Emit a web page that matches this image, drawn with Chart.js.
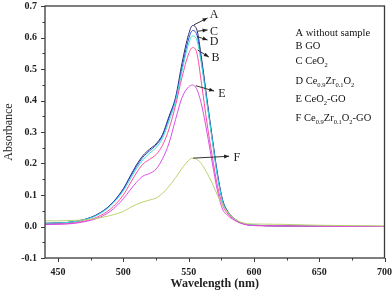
<!DOCTYPE html>
<html>
<head>
<meta charset="utf-8">
<script src="https://cdn.jsdelivr.net/npm/chart.js@4/dist/chart.umd.min.js"></script>
<style>
html, body { margin: 0; padding: 0; background: #fff; }
</style>
</head>
<body>
<canvas id="absChart" width="392" height="298"></canvas>
<script>
// wavelength (nm) for every sample point
const wavelengths = [440, 450, 460, 470, 480, 490, 500, 505, 510, 515, 520, 525, 530, 535, 540, 545, 550, 553, 556, 560, 564, 568, 572, 576, 580, 585, 590, 595, 600, 620, 650, 700];

// absorbance for each curve
const seriesA = [0.010, 0.011, 0.014, 0.022, 0.038, 0.068, 0.120, 0.158, 0.195, 0.225, 0.245, 0.262, 0.292, 0.350, 0.410, 0.520, 0.610, 0.638, 0.628, 0.530, 0.405, 0.285, 0.170, 0.085, 0.048, 0.025, 0.012, 0.006, 0.004, 0.002, 0.001, 0.000];
const seriesB = [0.007, 0.008, 0.010, 0.017, 0.030, 0.055, 0.100, 0.135, 0.170, 0.198, 0.213, 0.228, 0.258, 0.310, 0.385, 0.475, 0.548, 0.568, 0.555, 0.450, 0.330, 0.225, 0.130, 0.068, 0.040, 0.022, 0.011, 0.005, 0.003, 0.002, 0.001, 0.000];
const seriesC = [0.010, 0.011, 0.014, 0.022, 0.038, 0.068, 0.118, 0.155, 0.190, 0.220, 0.240, 0.258, 0.288, 0.345, 0.405, 0.505, 0.595, 0.622, 0.612, 0.520, 0.398, 0.280, 0.165, 0.082, 0.046, 0.024, 0.012, 0.006, 0.004, 0.002, 0.001, 0.000];
const seriesD = [0.010, 0.011, 0.014, 0.021, 0.036, 0.065, 0.113, 0.148, 0.183, 0.212, 0.232, 0.250, 0.280, 0.335, 0.398, 0.495, 0.580, 0.605, 0.595, 0.510, 0.392, 0.275, 0.160, 0.080, 0.045, 0.024, 0.012, 0.006, 0.004, 0.002, 0.001, 0.000];
const seriesE = [0.006, 0.007, 0.009, 0.015, 0.026, 0.048, 0.088, 0.115, 0.140, 0.160, 0.168, 0.182, 0.215, 0.265, 0.340, 0.410, 0.443, 0.449, 0.438, 0.385, 0.300, 0.205, 0.115, 0.055, 0.035, 0.020, 0.010, 0.005, 0.003, 0.002, 0.001, 0.000];
const seriesF = [0.018, 0.018, 0.019, 0.021, 0.026, 0.035, 0.048, 0.060, 0.070, 0.078, 0.084, 0.090, 0.105, 0.128, 0.155, 0.185, 0.210, 0.217, 0.214, 0.198, 0.170, 0.138, 0.100, 0.068, 0.045, 0.025, 0.014, 0.009, 0.008, 0.007, 0.004, 0.002];

const xMajor = [450, 500, 550, 600, 650, 700];
const yMajor = [-0.1, 0.0, 0.1, 0.2, 0.3, 0.4, 0.5, 0.6, 0.7];

// legend text, _{..} is a subscript
const legendLines = [
    'A without sample',
    'B GO',
    'C CeO_{2}',
    'D Ce_{0.9}Zr_{0.1}O_{2}',
    'E CeO_{2}-GO',
    'F Ce_{0.9}Zr_{0.1}O_{2}-GO'
];

// arrow labels: letter, curve point [nm, abs], arrow tip [nm, abs], label [nm, abs]
const curveLabels = [
    ['A', [554, 0.640], [564.5, 0.662], [569.5, 0.671]],
    ['C', [557, 0.620], [564.5, 0.624], [569.5, 0.618]],
    ['D', [556.5, 0.603], [564.5, 0.592], [569.5, 0.586]],
    ['B', [557, 0.560], [565.5, 0.538], [570.5, 0.535]],
    ['E', [555.5, 0.447], [569.5, 0.430], [575.5, 0.420]],
    ['F', [553.5, 0.217], [581, 0.223], [587, 0.217]]
];

const serif = '"Liberation Serif", "Times New Roman", serif';

function pts(vals) {
    return wavelengths.map((w, i) => ({ x: w, y: vals[i] }));
}

function midTicks(major) {
    const out = [];
    major.forEach((v, i) => {
        out.push({ value: v });
        if (i < major.length - 1) out.push({ value: (v + major[i + 1]) / 2 });
    });
    return out;
}

function drawRich(ctx, str, x, y) {
    const parts = str.split(/(_\{[^}]*\})/).filter(s => s.length);
    parts.forEach(p => {
        if (p.startsWith('_{')) {
            const t = p.slice(2, -1);
            ctx.font = '6.5px ' + serif;
            ctx.fillText(t, x, y + 3);
            x += ctx.measureText(t).width;
        } else {
            ctx.font = '10.5px ' + serif;
            ctx.fillText(p, x, y);
            x += ctx.measureText(p).width;
        }
    });
}

const decorPlugin = {
    id: 'decor',
    afterDraw(chart) {
        const ctx = chart.ctx;
        const area = chart.chartArea;
        const xs = chart.scales.x;
        const ys = chart.scales.y;
        ctx.save();

        // frame
        ctx.strokeStyle = '#3a3a3a';
        ctx.lineWidth = 1.3;
        ctx.strokeRect(area.left, area.top, area.right - area.left, area.bottom - area.top);

        // tick marks, outward
        ctx.lineWidth = 1;
        ctx.beginPath();
        xs.ticks.forEach(t => {
            const px = Math.round(xs.getPixelForValue(t.value)) + 0.5;
            const len = xMajor.includes(t.value) ? 4 : 2.5;
            ctx.moveTo(px, area.bottom);
            ctx.lineTo(px, area.bottom + len);
        });
        ys.ticks.forEach(t => {
            const py = Math.round(ys.getPixelForValue(t.value)) + 0.5;
            const major = yMajor.some(v => Math.abs(v - t.value) < 1e-6);
            ctx.moveTo(area.left, py);
            ctx.lineTo(area.left - (major ? 4 : 2.5), py);
        });
        ctx.stroke();

        // arrows to curve letters
        ctx.strokeStyle = '#333';
        ctx.fillStyle = '#222';
        curveLabels.forEach(([letter, from, tip, lab]) => {
            const x0 = xs.getPixelForValue(from[0]), y0 = ys.getPixelForValue(from[1]);
            const x1 = xs.getPixelForValue(tip[0]), y1 = ys.getPixelForValue(tip[1]);
            const ang = Math.atan2(y1 - y0, x1 - x0);
            ctx.beginPath();
            ctx.moveTo(x0, y0);
            ctx.lineTo(x1, y1);
            ctx.stroke();
            ctx.beginPath();
            ctx.moveTo(x1, y1);
            ctx.lineTo(x1 - 5 * Math.cos(ang) + 2 * Math.sin(ang), y1 - 5 * Math.sin(ang) - 2 * Math.cos(ang));
            ctx.lineTo(x1 - 5 * Math.cos(ang) - 2 * Math.sin(ang), y1 - 5 * Math.sin(ang) + 2 * Math.cos(ang));
            ctx.closePath();
            ctx.fill();
            ctx.font = '12px ' + serif;
            ctx.textAlign = 'center';
            ctx.textBaseline = 'middle';
            ctx.fillText(letter, xs.getPixelForValue(lab[0]), ys.getPixelForValue(lab[1]));
        });

        // legend text block
        ctx.textAlign = 'left';
        ctx.textBaseline = 'alphabetic';
        ctx.fillStyle = '#111';
        const offs = [30, 43, 58, 78, 96, 115];
        legendLines.forEach((line, i) => {
            drawRich(ctx, line, area.right - 89, area.top + offs[i]);
        });
        ctx.restore();
    }
};

const line = (data, color) => ({
    data: pts(data),
    borderColor: color,
    borderWidth: 1,
    pointRadius: 0,
    fill: false,
    cubicInterpolationMode: 'monotone'
});

new Chart(document.getElementById('absChart'), {
    type: 'line',
    data: {
        datasets: [
            line(seriesF, '#b8d470'),
            line(seriesE, '#d84ee6'),
            line(seriesB, '#ff4c9c'),
            line(seriesD, '#3fe0dc'),
            line(seriesC, '#2f4fd8'),
            line(seriesA, '#2a2a66')
        ]
    },
    options: {
        responsive: false,
        devicePixelRatio: 1,
        animation: false,
        layout: { padding: 0 },
        plugins: { legend: { display: false }, tooltip: { enabled: false } },
        scales: {
            x: {
                type: 'linear',
                min: 440,
                max: 700,
                afterBuildTicks: s => { s.ticks = midTicks(xMajor); },
                afterFit: s => { s.height = 40; },
                grid: { display: false, drawTicks: true, tickLength: 8 },
                border: { display: false },
                ticks: {
                    autoSkip: false,
                    maxRotation: 0,
                    padding: 0,
                    color: '#222',
                    font: { family: serif, size: 10, weight: 'bold' },
                    callback: v => xMajor.includes(v) ? String(v) : ''
                },
                title: {
                    display: true,
                    text: 'Wavelength (nm)',
                    color: '#222',
                    font: { family: serif, size: 12, weight: 'bold' },
                    padding: { top: 0, bottom: 7 }
                }
            },
            y: {
                min: -0.1,
                max: 0.7,
                afterBuildTicks: s => { s.ticks = midTicks(yMajor); },
                afterFit: s => { s.width = 45; },
                grid: { display: false, drawTicks: true, tickLength: 8 },
                border: { display: false },
                ticks: {
                    autoSkip: false,
                    padding: 0,
                    color: '#222',
                    font: { family: serif, size: 10, weight: 'bold' },
                    callback: v => yMajor.some(m => Math.abs(m - v) < 1e-6) ? v.toFixed(1) : ''
                },
                title: {
                    display: true,
                    text: 'Absorbance',
                    color: '#222',
                    font: { family: serif, size: 12 },
                    padding: { top: 2, bottom: 0 }
                }
            }
        }
    },
    plugins: [decorPlugin]
});
</script>
</body>
</html>
